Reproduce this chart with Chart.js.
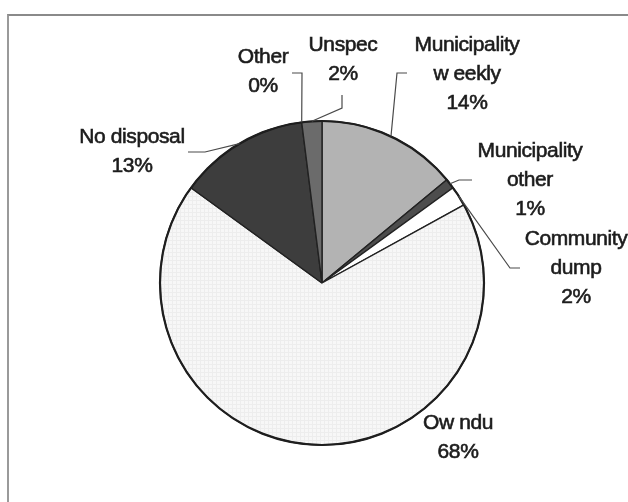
<!DOCTYPE html>
<html>
<head>
<meta charset="utf-8">
<script src="https://cdn.jsdelivr.net/npm/chart.js@4.4.1/dist/chart.umd.min.js"></script>
<style>
  html, body { margin: 0; padding: 0; background: #fff; }
  #wrap { position: relative; width: 628px; height: 502px; overflow: hidden; }
  #frame {
    position: absolute; left: 7px; top: 14px; width: 700px; height: 600px;
    border-left: 2px solid #9a9a9a; border-top: 2px solid #8a8a8a;
  }
  #disposal { position: absolute; left: 0; top: 0; }
</style>
</head>
<body>
<div id="wrap">
  <div id="frame"></div>
  <canvas id="disposal" width="628" height="502"></canvas>
</div>
<script>
// waste disposal method, share of households (%)
const categories = ['Municipality weekly', 'Municipality other', 'Community dump', 'Ow ndu', 'No disposal', 'Other', 'Unspec'];
const labelLines = [['Municipality', 'w eekly'], ['Municipality', 'other'], ['Community', 'dump'], ['Ow ndu'], ['No disposal'], ['Other'], ['Unspec']];
const shares = [14, 1, 2, 68, 13, 0, 2];

// faint grid fill for the big slice
function gridFill() {
  const c = document.createElement('canvas');
  c.width = 4; c.height = 4;
  const g = c.getContext('2d');
  g.fillStyle = '#f7f7f7';
  g.fillRect(0, 0, 4, 4);
  g.fillStyle = '#ededed';
  g.fillRect(0, 0, 4, 1);
  g.fillRect(0, 0, 1, 4);
  return g.createPattern(c, 'repeat');
}

const ctx = document.getElementById('disposal').getContext('2d');
const fills = ['#b3b3b3', '#4d4d4d', '#ffffff', gridFill(), '#3d3d3d', '#5a5a5a', '#6b6b6b'];

// label text centre (first line) and leader bends, in canvas px
const labelPos = [
  { x: 467, y: 45, line: [[397, 73], [407, 73]] },
  { x: 530, y: 151, line: [[459, 180], [472, 180]] },
  { x: 576, y: 239, line: [[510, 268], [520, 268]] },
  { x: 458, y: 423, line: null },
  { x: 132, y: 137, line: [[205, 152], [188, 152]] },
  { x: 263, y: 57, line: [[302, 73], [292, 73]] },
  { x: 343, y: 45, line: [[342, 108], [342, 95]] }
];

const calloutPlugin = {
  id: 'callouts',
  afterDatasetsDraw(chart) {
    const c = chart.ctx;
    const meta = chart.getDatasetMeta(0);
    const arc0 = meta.data[0];
    c.save();
    // heavier outer rim
    c.beginPath();
    c.arc(arc0.x, arc0.y, arc0.outerRadius, 0, Math.PI * 2);
    c.lineWidth = 2.2;
    c.strokeStyle = '#1e1e1e';
    c.stroke();

    c.font = '21px "Liberation Sans", Arial, sans-serif';
    c.letterSpacing = '-0.4px';
    c.fillStyle = '#1c1c1c';
    c.textAlign = 'center';
    c.textBaseline = 'middle';
    meta.data.forEach((arc, i) => {
      const pos = labelPos[i];
      if (pos.line) {
        const mid = (arc.startAngle + arc.endAngle) / 2;
        c.beginPath();
        c.moveTo(arc.x + Math.cos(mid) * arc.outerRadius, arc.y + Math.sin(mid) * arc.outerRadius);
        pos.line.forEach(p => c.lineTo(p[0], p[1]));
        c.lineWidth = 1.2;
        c.strokeStyle = '#4a4a4a';
        c.stroke();
      }
      const lines = labelLines[i].concat([shares[i] + '%']);
      c.lineWidth = 0.6;
      c.strokeStyle = '#1c1c1c';
      lines.forEach((t, k) => {
        const y = pos.y + k * 29;
        c.fillText(t, pos.x, y);
        c.strokeText(t, pos.x, y);
      });
    });
    c.restore();
  }
};

new Chart(ctx, {
  type: 'pie',
  data: {
    labels: categories,
    datasets: [{
      data: shares,
      backgroundColor: fills,
      borderColor: '#222222',
      borderWidth: 1.4,
      radius: 162
    }]
  },
  options: {
    responsive: false,
    animation: false,
    layout: { padding: { left: 100, right: 84, top: 100, bottom: 36 } },
    plugins: {
      legend: { display: false },
      tooltip: { enabled: false }
    }
  },
  plugins: [calloutPlugin]
});
</script>
</body>
</html>
